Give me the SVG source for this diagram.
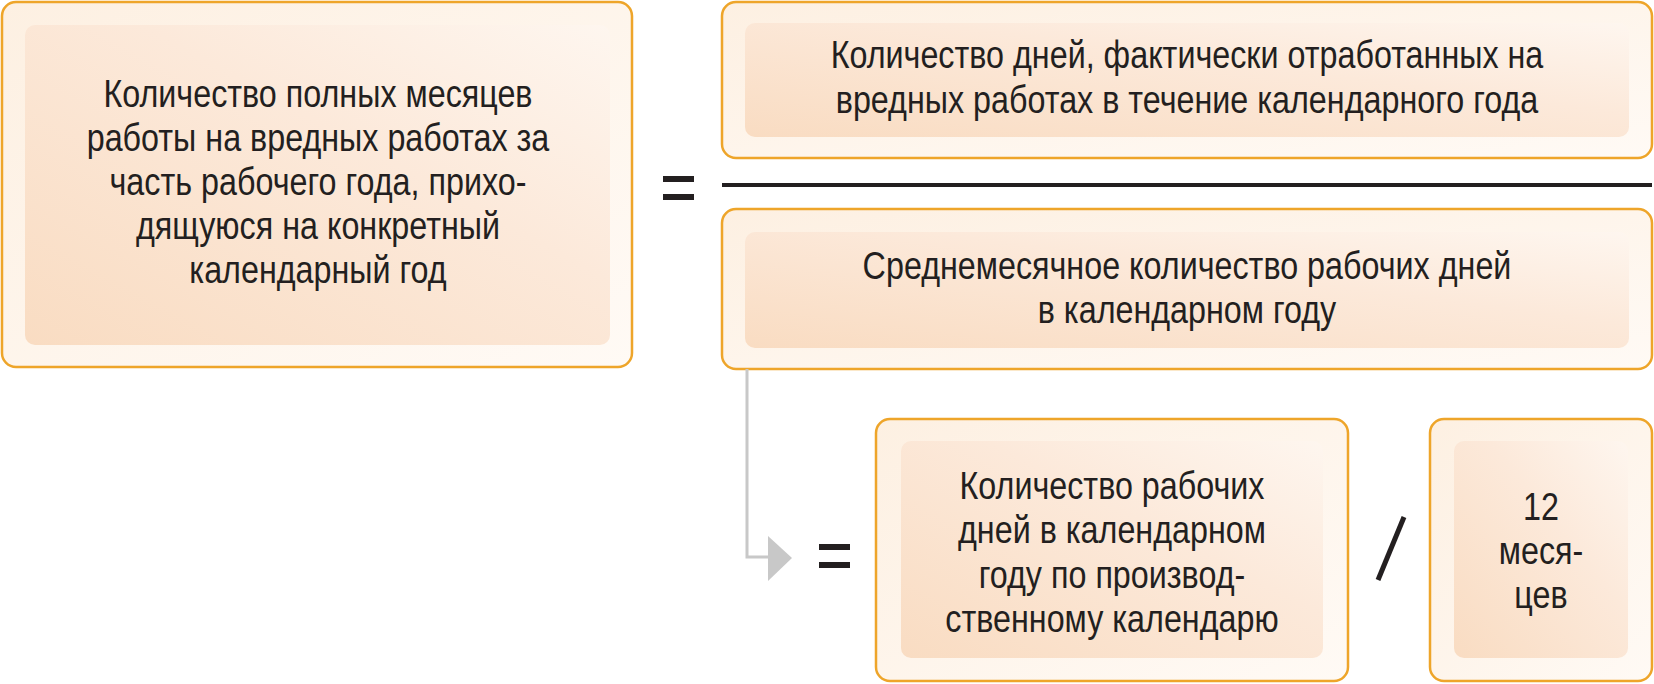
<svg xmlns="http://www.w3.org/2000/svg" width="1654" height="684" viewBox="0 0 1654 684">
<defs>
<linearGradient id="gIn" x1="0" y1="1" x2="1" y2="0"><stop offset="0" stop-color="#f9dcc2"/><stop offset="0.6" stop-color="#fce9da"/><stop offset="1" stop-color="#fef6ef"/></linearGradient>
<linearGradient id="gOut" x1="0" y1="0" x2="1" y2="1"><stop offset="0" stop-color="#fdf0e2"/><stop offset="1" stop-color="#fffaf5"/></linearGradient>
</defs>
<style>
.o{fill:url(#gOut);stroke:#eea52a;stroke-width:2.5}
.i{fill:url(#gIn)}
.t{font-family:"Liberation Sans",Arial,sans-serif;font-size:38px;fill:#231f20;text-anchor:middle}
.k{fill:#231f20}
</style>
<g id="boxA"><rect class="o" x="2" y="2" width="630" height="365" rx="14"/><rect class="i" x="25" y="25" width="585" height="320" rx="10"/>
<text class="t" transform="matrix(0.85,0,0,1,47.7,0)"><tspan x="318" y="107">Количество полных месяцев</tspan><tspan x="318" y="151">работы на вредных работах за</tspan><tspan x="318" y="195">часть рабочего года, прихо-</tspan><tspan x="318" y="239">дящуюся на конкретный</tspan><tspan x="318" y="283">календарный год</tspan></text></g>
<g id="eq1"><rect class="k" x="663" y="176" width="31" height="6"/><rect class="k" x="663" y="194" width="31" height="6"/></g>
<g id="boxB"><rect class="o" x="722" y="2" width="930" height="156" rx="14"/><rect class="i" x="745" y="23" width="884" height="114" rx="10"/>
<text class="t" transform="matrix(0.85,0,0,1,178.05,0)"><tspan x="1187" y="68">Количество дней, фактически отработанных на</tspan><tspan x="1187" y="113">вредных работах в течение календарного года</tspan></text></g>
<rect id="fracline" class="k" x="722" y="183" width="930" height="4"/>
<g id="boxC"><rect class="o" x="722" y="209" width="930" height="160" rx="14"/><rect class="i" x="745" y="232" width="884" height="116" rx="10"/>
<text class="t" transform="matrix(0.85,0,0,1,178.05,0)"><tspan x="1187" y="279">Среднемесячное количество рабочих дней</tspan><tspan x="1187" y="323">в календарном году</tspan></text></g>
<g id="connectors"><path d="M747 369V557H770" fill="none" stroke="#c8c8c8" stroke-width="3"/><polygon points="768,536 792,558 768,581" fill="#c8c8c8"/></g>
<g id="eq2"><rect class="k" x="819" y="544" width="31" height="6"/><rect class="k" x="819" y="562" width="31" height="6"/></g>
<g id="boxD"><rect class="o" x="876" y="419" width="472" height="262" rx="14"/><rect class="i" x="901" y="441" width="422" height="217" rx="10"/>
<text class="t" transform="matrix(0.85,0,0,1,166.8,0)"><tspan x="1112" y="499">Количество рабочих</tspan><tspan x="1112" y="543">дней в календарном</tspan><tspan x="1112" y="588">году по производ-</tspan><tspan x="1112" y="632">ственному календарю</tspan></text></g>
<line id="slash" x1="1404" y1="517" x2="1378" y2="580" stroke="#231f20" stroke-width="5"/>
<g id="boxE"><rect class="o" x="1430" y="419" width="222" height="262" rx="14"/><rect class="i" x="1454" y="441" width="174" height="217" rx="10"/>
<text class="t" transform="matrix(0.85,0,0,1,231.15,0)"><tspan x="1541" y="520">12</tspan><tspan x="1541" y="564">меся-</tspan><tspan x="1541" y="608">цев</tspan></text></g>
</svg>
